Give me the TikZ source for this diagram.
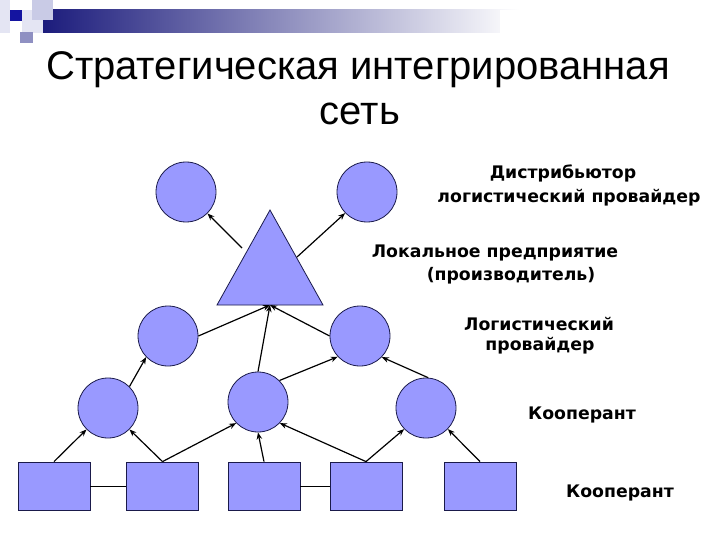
\documentclass[tikz,border=0pt]{standalone}
\usepackage{fontspec}
\setmainfont{Liberation Sans}
\newfontfamily\lblfont{DejaVu Sans}
\usetikzlibrary{arrows.meta}
\definecolor{nodefill}{HTML}{9999FF}
\definecolor{nodeline}{HTML}{1A1A4A}
\definecolor{barnavy}{HTML}{1C1C7C}
\definecolor{decpale}{HTML}{E4E5F3}
\definecolor{declight}{HTML}{C9CBE6}
\definecolor{decdark}{HTML}{1414A0}
\definecolor{decmid}{HTML}{8F90C2}
\tikzset{
  every picture/.style={x=1pt,y=-1pt},
  circ/.style={circle,draw=nodeline,fill=nodefill,line width=0.8pt,minimum size=60pt,inner sep=0pt},
  rbox/.style={rectangle,draw=nodeline,fill=nodefill,line width=0.8pt,minimum width=72pt,minimum height=48pt,inner sep=0pt},
  arr/.style={-{Stealth[length=7pt,width=5.5pt]},line width=1.2pt,black},
  plain/.style={line width=0.8pt,black},
  lbl/.style={font=\lblfont\bfseries\fontsize{17.3}{20}\selectfont,anchor=base,inner sep=0pt},
  ttl/.style={font=\fontsize{40}{48}\selectfont,anchor=base,inner sep=0pt}
}
\begin{document}
\begin{tikzpicture}
\useasboundingbox (0,0) rectangle (720,540);
\fill[white] (0,0) rectangle (720,540);
% decoration
\shade[left color=barnavy,right color=white] (43,10) rectangle (520,33);
\fill[white] (500,10) rectangle (520,33);
\fill[decpale] (0,0) rectangle (10,33);
\fill[decpale] (22,10) rectangle (43,33);
\fill[declight] (32,0) rectangle (53,20);
\fill[decdark] (10,10) rectangle (22,21);
\fill[decmid] (20,32) rectangle (33,43);
% title
\node[ttl] (t1) at (358,80) {Стратегическая интегрированная};
\node[ttl] (t2) at (360,125) {сеть};
% triangle
\coordinate (trtop) at (270,210);
\coordinate (trbase) at (270,305);
\fill[nodefill,draw=nodeline,line width=0.8pt] (trtop) -- (323,305) -- (217,305) -- cycle;
\coordinate (trL) at (242,248);
\coordinate (trR) at (297,257);
% circles
\node[circ] (F) at (186,192) {};
\node[circ] (G) at (367,192) {};
\node[circ] (D) at (168,336) {};
\node[circ] (E) at (360,336) {};
\node[circ] (A) at (108,408) {};
\node[circ] (B) at (258,402) {};
\node[circ] (C) at (426,408) {};
% boxes
\node[rbox] (r1) at (54,486) {};
\node[rbox] (r2) at (162.5,486) {};
\node[rbox] (r3) at (264,486) {};
\node[rbox] (r4) at (366,486) {};
\node[rbox] (r5) at (480,486) {};
% plain lines
\draw[plain] (r1.east) -- (r2.west);
\draw[plain] (r3.east) -- (r4.west);
% arrows
\draw[arr] (r1.north) -- (A.225);
\draw[arr] (r2.north) -- (A.315);
\draw[arr] (r2.north) -- (B.224);
\draw[arr] (r3.north) -- (B.270);
\draw[arr] (r4.north) -- (B.316);
\draw[arr] (r4.north) -- (C.224);
\draw[arr] (r5.north) -- (C.316);
\draw[arr] (A.45) -- (D.224);
\draw[arr] (B.45) -- (E.223);
\draw[arr] (C.86) -- (E.316);
\draw[arr] (D.0) -- (trbase);
\draw[arr] (B.90) -- (trbase);
\draw[arr] (E.180) -- (trbase);
\draw[arr] (trL) -- (F.315);
\draw[arr] (trR) -- (G.224);
% labels
\node[lbl] (l1) at (563,179) {Дистрибьютор};
\node[lbl] (l2) at (569,203) {логистический провайдер};
\node[lbl] (l3) at (495,257) {Локальное предприятие};
\node[lbl] (l4) at (511,280) {(производитель)};
\node[lbl] (l5) at (539,330) {Логистический};
\node[lbl] (l6) at (540,350) {провайдер};
\node[lbl] (l7) at (582,419) {Кооперант};
\node[lbl] (l8) at (620,497) {Кооперант};
\end{tikzpicture}
\end{document}
